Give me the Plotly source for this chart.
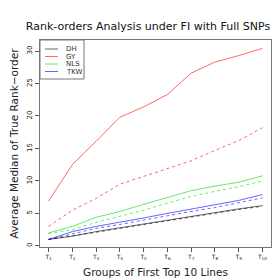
import plotly.graph_objects as go

groups = ["T<sub>1</sub>", "T<sub>2</sub>", "T<sub>3</sub>", "T<sub>4</sub>", "T<sub>5</sub>",
          "T<sub>6</sub>", "T<sub>7</sub>", "T<sub>8</sub>", "T<sub>9</sub>", "T<sub>10</sub>"]
x_pos = [1, 2, 3, 4, 5, 6, 7, 8, 9, 10]

dh_solid = [1.0, 1.5, 2.2, 2.8, 3.4, 4.0, 4.6, 5.2, 5.7, 6.2]
dh_dotted = [1.0, 1.5, 2.1, 2.7, 3.3, 3.9, 4.5, 5.1, 5.6, 6.1]
gy_solid = [6.9, 12.5, 16.1, 19.8, 21.4, 23.3, 26.6, 28.3, 29.3, 30.4]
gy_dotted = [3.0, 5.5, 7.3, 9.5, 10.7, 11.9, 13.1, 14.7, 16.2, 18.2]
nls_solid = [2.0, 3.0, 4.4, 5.3, 6.4, 7.5, 8.5, 9.2, 9.8, 10.8]
nls_dotted = [1.9, 2.5, 3.6, 4.5, 5.5, 6.6, 7.6, 8.4, 9.1, 10.0]
tkw_solid = [1.0, 2.2, 3.0, 3.6, 4.3, 5.0, 5.7, 6.3, 7.0, 7.9]
tkw_dotted = [1.0, 1.9, 2.7, 3.3, 4.0, 4.6, 5.3, 5.9, 6.6, 7.4]

names = ["DH", "GY", "NLS", "TKW"]
colors = ["rgba(0,0,0,0.6)", "rgba(255,0,0,0.6)", "rgba(0,220,0,0.6)", "rgba(0,0,255,0.6)"]
solids = [dh_solid, gy_solid, nls_solid, tkw_solid]
dotteds = [dh_dotted, gy_dotted, nls_dotted, tkw_dotted]

fig = go.Figure()
for name, col, s, d in zip(names, colors, solids, dotteds):
    fig.add_trace(go.Scatter(x=x_pos, y=d, mode="lines", line=dict(color=col, width=1, dash="dot"),
                             showlegend=False, name=name + " (dotted)"))
for name, col, s, d in zip(names, colors, solids, dotteds):
    fig.add_trace(go.Scatter(x=x_pos, y=s, mode="lines", name=name, line=dict(color=col, width=1),
                             showlegend=False))

# manual compact legend (R-style box in top-left corner)
W, H = 231.0, 207.0  # plot area size in px
def px(xp):
    return (xp - 32) / W
def py(yp):
    return (239 - yp) / H

fig.add_shape(type="rect", xref="paper", yref="paper", x0=px(32), x1=px(76), y0=py(71), y1=py(32),
              line=dict(color="#777", width=1), fillcolor="white", layer="above")
for i, (name, col) in enumerate(zip(names, colors)):
    yy = 41 + i * 7.5
    fig.add_shape(type="line", xref="paper", yref="paper", x0=px(37), x1=px(50), y0=py(yy), y1=py(yy),
                  line=dict(color=col, width=1), layer="above")
    fig.add_annotation(xref="paper", yref="paper", x=px(56), y=py(yy), text=name, showarrow=False,
                       xanchor="left", yanchor="middle", font=dict(size=7, color="#333"))

font = "DejaVu Sans, Liberation Sans, sans-serif"
fig.update_layout(
    width=280, height=280,
    margin=dict(l=32, r=17, t=32, b=41, autoexpand=False),
    paper_bgcolor="white", plot_bgcolor="white",
    font=dict(family=font, color="#222"),
    showlegend=False,
    title=dict(text="Rank-orders Analysis under FI with Full SNPs", font=dict(size=11, color="#111"),
               x=140 / 280, xanchor="center", xref="container", y=1 - 18 / 280, yanchor="middle",
               yref="container", automargin=False),
    xaxis=dict(range=[0.64, 10.36], tickvals=x_pos, ticktext=groups, showgrid=False, zeroline=False,
               showline=True, linecolor="#777", linewidth=1, mirror=True, ticks="outside", ticklen=4,
               tickcolor="#555", tickfont=dict(size=6), automargin=False,
               title=dict(text="Groups of First Top 10 Lines", font=dict(size=10.5), standoff=8)),
    yaxis=dict(range=[-0.17, 31.7], tickvals=[0, 5, 10, 15, 20, 25, 30], showgrid=False, zeroline=False,
               showline=True, linecolor="#777", linewidth=1, mirror=True, ticks="outside", ticklen=4,
               tickcolor="#555", tickfont=dict(size=7), tickangle=-90, automargin=False,
               title=dict(text="Average Median of True Rank\u2212order", font=dict(size=10.5), standoff=15)),
)
fig.write_html("out.html")
